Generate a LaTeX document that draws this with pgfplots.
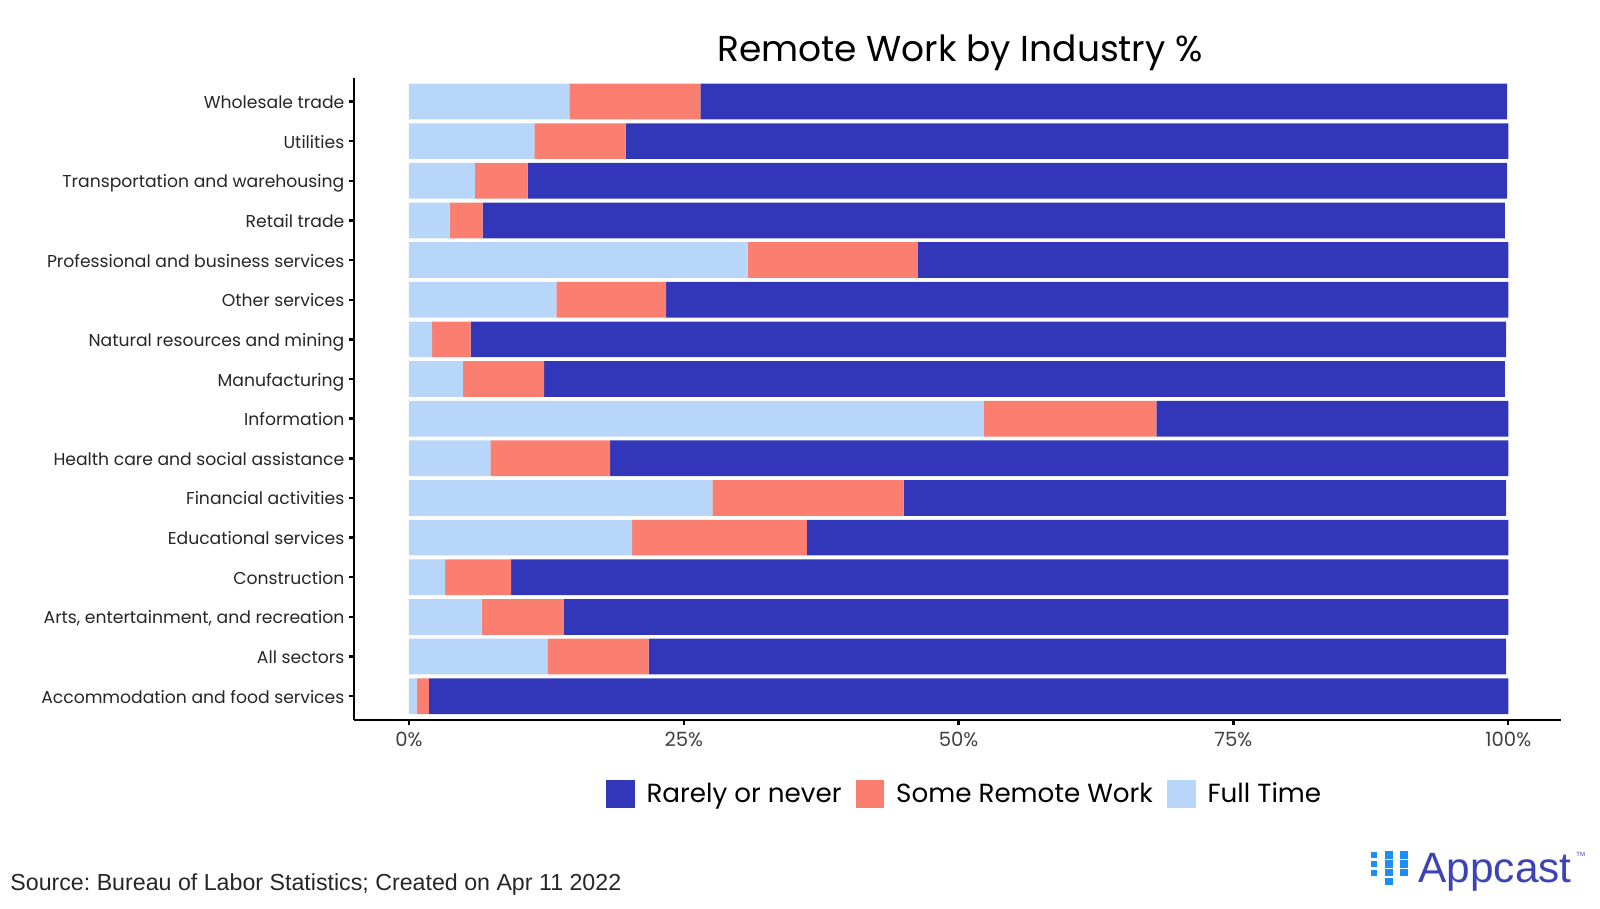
\documentclass[border=0pt]{standalone}
\usepackage{pgfplots}
\pgfplotsset{compat=1.18}
\usepackage{pgfplotstable}
\usepackage{fontspec}
\setmainfont{Poppins}
\newfontfamily\arialfont{Liberation Sans}
\definecolor{rare}{HTML}{3137B8}
\definecolor{some}{HTML}{FA7F70}
\definecolor{ft}{HTML}{B7D6FA}
\definecolor{logoblue}{HTML}{3D43B5}
\definecolor{iconblue}{HTML}{1C8EF5}

\pgfplotstableread{
idx ft some rare
0 0.7 1.1 98.2
1 12.6 9.2 78.0
2 6.6 7.5 85.9
3 3.3 6.0 90.7
4 20.3 15.9 63.8
5 27.6 17.4 54.8
6 7.4 10.9 81.7
7 52.3 15.7 32.0
8 4.9 7.4 87.4
9 2.1 3.5 94.2
10 13.4 10.0 76.6
11 30.8 15.5 53.7
12 3.7 3.0 93.0
13 6.0 4.8 89.1
14 11.4 8.3 80.3
15 14.6 11.9 73.4
}\datatable

\begin{document}
\frenchspacing
\begin{tikzpicture}
\useasboundingbox (0,0) rectangle (800pt,454.5pt);
\begin{axis}[
  at={(177pt,94.5pt)}, anchor=south west,
  scale only axis, width=603.5pt, height=321.15pt,
  xbar stacked, bar width=0.9,
  xmin=-5, xmax=104.8, ymin=-0.6, ymax=15.6,
  axis x line*=bottom, axis y line*=left,
  axis line style={line width=1.2pt, -},
  tick align=outside, major tick length=2.5pt,
  tick style={line width=1.2pt, black},
  xtick={0,25,50,75,100},
  xticklabels={0\%,25\%,50\%,75\%,100\%},
  ytick={0,...,15},
  yticklabels={Accommodation and food services,All sectors,{Arts, entertainment, and recreation},Construction,Educational services,Financial activities,Health care and social assistance,Information,Manufacturing,Natural resources and mining,Other services,Professional and business services,Retail trade,Transportation and warehousing,Utilities,Wholesale trade},
  yticklabel style={font=\fontsize{8.6}{10}\selectfont, text=black!85, text height=0.7em, text depth=0pt, xshift=1.2pt},
  xticklabel style={font=\fontsize{9.8}{11}\selectfont, text=black!75},
  /pgf/number format/assume math mode=true,
  reverse legend,
  legend columns=3,
  legend style={at={(0.51,-0.115)}, anchor=center, draw=none,
    font=\fontsize{13.1}{15}\selectfont,
    nodes={inner xsep=6pt},
    /tikz/every even column/.append style={column sep=1pt}},
  legend image code/.code={\fill[#1] (0pt,-7.15pt) rectangle (14.3pt,7.15pt);},
]
\addplot[fill=ft, draw=none] table[x=ft, y=idx] {\datatable};
\addlegendentry{Full Time}
\addplot[fill=some, draw=none] table[x=some, y=idx] {\datatable};
\addlegendentry{Some Remote Work}
\addplot[fill=rare, draw=none] table[x=rare, y=idx] {\datatable};
\addlegendentry{Rarely or never}
\end{axis}
\node[font=\fontsize{18}{21}\selectfont] at (480pt,428pt) {Remote Work by Industry \%};
\node[anchor=west, inner sep=0pt, font=\arialfont\fontsize{11.6}{13}\selectfont, text=black!85] at (5pt,12pt) {Source: Bureau of Labor Statistics; Created on Apr 11 2022};
\node[anchor=base west, inner sep=0pt, font=\arialfont\fontsize{21.2}{24}\selectfont, text=logoblue] at (709pt,13pt) {Appcast};
\node[anchor=north west, inner sep=0pt, font=\arialfont\fontsize{3}{4}\selectfont, text=logoblue] at (788pt,28.5pt) {TM};
\foreach \yy in {27,22.6,18.2} {
  \fill[iconblue] (687pt-1.5pt,\yy pt-1.5pt) rectangle (687pt+1.5pt,\yy pt+1.5pt);
  \fill[iconblue] (702pt-1.9pt,\yy pt-1.9pt) rectangle (702pt+1.9pt,\yy pt+1.9pt);
}
\foreach \yy in {27,22.6,18.2,13.8} {
  \fill[iconblue] (694.5pt-1.9pt,\yy pt-1.9pt) rectangle (694.5pt+1.9pt,\yy pt+1.9pt);
}
\end{tikzpicture}
\end{document}
